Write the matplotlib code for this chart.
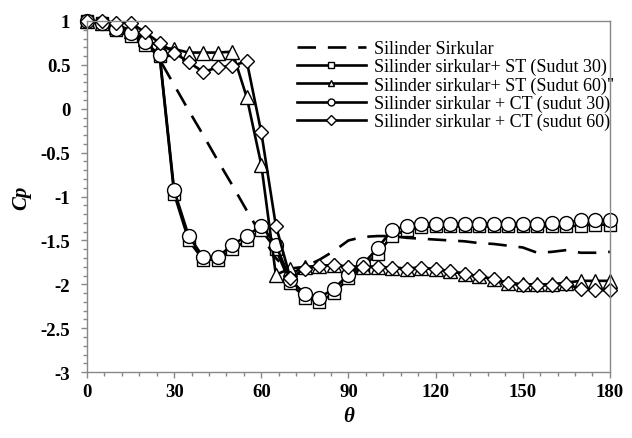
import numpy as np
import matplotlib
matplotlib.use('Agg')
import matplotlib.pyplot as plt

theta = np.arange(0, 181, 5)

cp_sirkular = [1.0, 1.0, 0.95, 0.9, 0.78, 0.56, 0.27, -0.02, -0.3, -0.59, -0.87, -1.16, -1.44,
               -1.7, -1.88, -1.8, -1.72, -1.62, -1.5, -1.46, -1.45, -1.45, -1.47, -1.48, -1.49,
               -1.5, -1.51, -1.53, -1.54, -1.56, -1.58, -1.64, -1.63, -1.61, -1.64, -1.64, -1.63]

cp_st30 = [1.0, 0.98, 0.9, 0.83, 0.73, 0.6, -0.97, -1.5, -1.72, -1.72, -1.6, -1.5, -1.38,
           -1.6, -1.99, -2.15, -2.2, -2.1, -1.93, -1.8, -1.65, -1.45, -1.38, -1.35, -1.34,
           -1.34, -1.34, -1.34, -1.34, -1.34, -1.34, -1.34, -1.34, -1.34, -1.33, -1.32, -1.32]

cp_st60 = [1.0, 0.98, 0.93, 0.88, 0.8, 0.7, 0.68, 0.64, 0.64, 0.64, 0.65, 0.13, -0.64,
           -1.89, -1.82, -1.8, -1.79, -1.78, -1.8, -1.8, -1.8, -1.81, -1.82, -1.81, -1.83,
           -1.85, -1.88, -1.91, -1.94, -1.98, -2.0, -2.0, -2.0, -1.98, -1.96, -1.96, -1.96]

cp_ct30 = [1.0, 0.98, 0.91, 0.86, 0.76, 0.61, -0.93, -1.45, -1.69, -1.69, -1.55, -1.45, -1.33,
           -1.55, -1.95, -2.11, -2.15, -2.05, -1.89, -1.77, -1.59, -1.38, -1.34, -1.31, -1.31,
           -1.31, -1.31, -1.31, -1.31, -1.31, -1.31, -1.31, -1.3, -1.3, -1.27, -1.27, -1.27]

cp_ct60 = [1.0, 1.0, 0.98, 0.98, 0.87, 0.75, 0.64, 0.53, 0.42, 0.47, 0.49, 0.54, -0.27,
           -1.33, -1.93, -1.82, -1.79, -1.78, -1.8, -1.8, -1.8, -1.81, -1.82, -1.81, -1.83,
           -1.85, -1.88, -1.91, -1.94, -1.99, -2.01, -2.01, -2.01, -2.0, -2.05, -2.06, -2.07]

labels = ['Silinder Sirkular',
          'Silinder sirkular+ ST (Sudut 30)',
          'Silinder sirkular+ ST (Sudut 60)"',
          'Silinder sirkular + CT (sudut 30)',
          'Silinder sirkular + CT (sudut 60)']

serif = 'Liberation Serif'

fig = plt.figure(figsize=(6.32, 4.39), dpi=100)
ax = fig.add_axes([0.1377, 0.150, 0.8273, 0.800])

lw = 1.9
mk = dict(markerfacecolor='white', markeredgecolor='black', markeredgewidth=1.0, clip_on=False)

ax.plot(theta, cp_sirkular, color='black', lw=lw, dashes=(7, 4.5), label=labels[0])
ax.plot(theta, cp_st30, color='black', lw=lw, marker='s', markersize=9, label=labels[1], **mk)
ax.plot(theta, cp_st60, color='black', lw=lw, marker='^', markersize=10, label=labels[2], **mk)
ax.plot(theta, cp_ct30, color='black', lw=lw, marker='o', markersize=10, label=labels[3], **mk)
ax.plot(theta, cp_ct60, color='black', lw=lw, marker='D', markersize=7, label=labels[4], **mk)

ax.set_xlim(0, 180)
ax.set_ylim(-3, 1)
ax.set_xticks(np.arange(0, 181, 30))
ax.set_xticks(np.arange(0, 181, 6), minor=True)
ax.set_yticks(np.arange(-3, 1.01, 0.5))
ax.set_yticks(np.arange(-3, 1.01, 0.1), minor=True)
ax.set_yticklabels(['-3', '-2.5', '-2', '-1.5', '-1', '-0.5', '0', '0.5', '1'])

for s in ax.spines.values():
    s.set_color('#888888')
    s.set_linewidth(1.0)

ax.tick_params(which='both', direction='out', color='#888888', width=1.0)
ax.tick_params(which='major', length=4)
ax.tick_params(which='minor', length=3)
ax.tick_params(axis='y', which='major', pad=8)
ax.tick_params(axis='x', which='major', pad=4)
for t in ax.get_xticklabels() + ax.get_yticklabels():
    t.set_fontfamily(serif)
    t.set_fontweight('bold')
    t.set_fontsize(13.5)

ax.set_xlabel('θ', fontfamily=serif, fontsize=15, fontweight='bold', fontstyle='italic', labelpad=4)
ax.set_ylabel('Cp', fontfamily=serif, fontsize=15, fontweight='bold', fontstyle='italic', labelpad=7)

leg = ax.legend(loc='upper left', bbox_to_anchor=(0.4015, 0.945), frameon=False,
                prop={'family': serif, 'size': 13}, handlelength=3.8, handletextpad=0.45,
                labelspacing=0.05, borderpad=0, borderaxespad=0, numpoints=1)
for h in leg.legend_handles:
    h.set_markersize(5)

fig.savefig('out.png', dpi=100)
